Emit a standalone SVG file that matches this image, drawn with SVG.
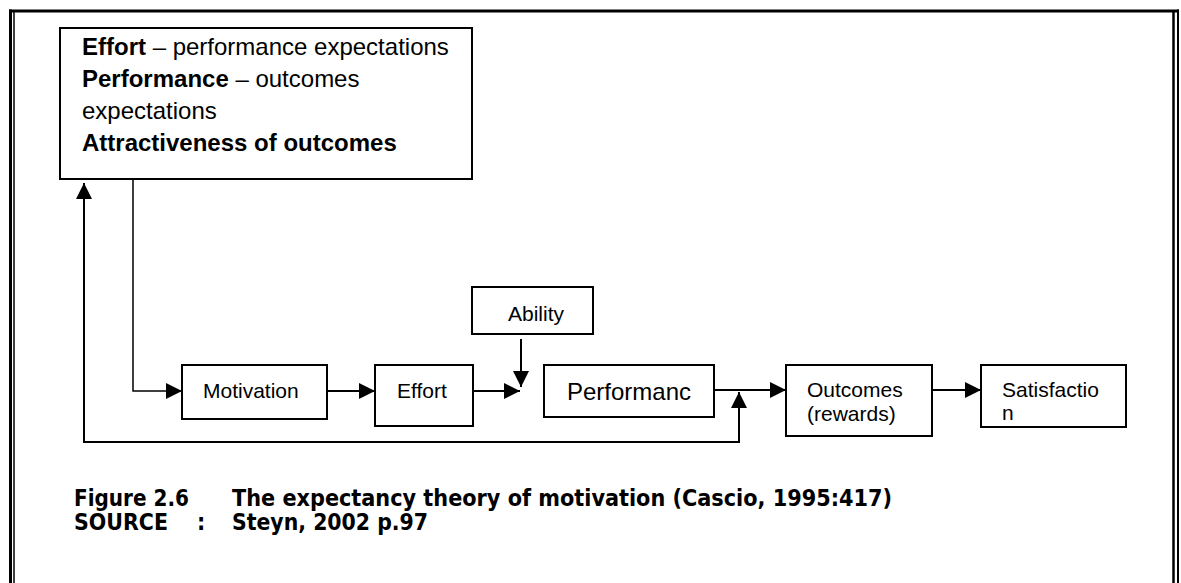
<svg xmlns="http://www.w3.org/2000/svg" width="1181" height="583" viewBox="0 0 1181 583">
  <defs>
    <style>
      .box { fill: #fff; stroke: #000; stroke-width: 2; }
      .frame { stroke: #000; fill: none; }
      .wire { fill: none; stroke: #000; stroke-width: 2; }
      .thin { stroke-width: 1.5; }
      .lbl { font-family: "Liberation Sans", Arial, sans-serif; font-size: 21px; fill: #000; }
      .big { font-size: 24px; }
      .b { font-weight: bold; }
      .cap { font-family: "DejaVu Sans Condensed", "DejaVu Sans", "Liberation Sans", sans-serif; font-stretch: condensed; font-size: 23px; font-weight: bold; fill: #000; }
    </style>
    <marker id="head" markerUnits="userSpaceOnUse" markerWidth="16" markerHeight="16" refX="16" refY="8" orient="auto-start-reverse">
      <path d="M0,0 L16,8 L0,16 z" fill="#000"/>
    </marker>
  </defs>

  <rect width="1181" height="583" fill="#fff"/>

  <!-- page frame: double rule left and right, single rule on top -->
  <g id="frame">
    <line class="frame" x1="10.5" y1="9.5" x2="10.5" y2="583" stroke-width="3"/>
    <line class="frame" x1="14" y1="12" x2="14" y2="583" stroke-width="1.5"/>
    <line class="frame" x1="9" y1="11" x2="1179" y2="11" stroke-width="3"/>
    <line class="frame" x1="1173.5" y1="12" x2="1173.5" y2="583" stroke-width="2.5"/>
    <line class="frame" x1="1178" y1="9.5" x2="1178" y2="583" stroke-width="2"/>
  </g>

  <!-- connectors -->
  <g id="connectors">
    <path class="wire thin" d="M133,180 V391 H182" marker-end="url(#head)"/>
    <path class="wire" d="M327,391 H375" marker-end="url(#head)"/>
    <path class="wire" d="M473,391 H520" marker-end="url(#head)"/>
    <path class="wire" d="M521,339 V387" marker-end="url(#head)"/>
    <path class="wire" d="M714,390 H786" marker-end="url(#head)"/>
    <path class="wire" d="M932,390 H981" marker-end="url(#head)"/>
    <path class="wire" d="M739,392 V442 H84 V183" marker-start="url(#head)" marker-end="url(#head)"/>
  </g>

  <g id="expectations">
    <rect class="box" x="60" y="28" width="412" height="151"/>
    <text class="lbl big" x="82" y="55"><tspan class="b">Effort</tspan> – performance expectations</text>
    <text class="lbl big" x="82" y="87"><tspan class="b">Performance</tspan> – outcomes</text>
    <text class="lbl big" x="82" y="119">expectations</text>
    <text class="lbl big b" x="82" y="151">Attractiveness of outcomes</text>
  </g>

  <g id="motivation">
    <rect class="box" x="182" y="365" width="145" height="54"/>
    <text class="lbl" x="203" y="398">Motivation</text>
  </g>

  <g id="effort">
    <rect class="box" x="375" y="365" width="98" height="61"/>
    <text class="lbl" x="397" y="398">Effort</text>
  </g>

  <g id="ability">
    <rect class="box" x="472" y="287" width="121" height="47"/>
    <text class="lbl" x="508" y="321">Ability</text>
  </g>

  <g id="performance">
    <rect class="box" x="544" y="365" width="170" height="52"/>
    <text class="lbl big" x="567" y="400">Performanc</text>
  </g>

  <g id="outcomes">
    <rect class="box" x="786" y="365" width="146" height="71"/>
    <text class="lbl" x="807" y="397">Outcomes</text>
    <text class="lbl" x="807" y="421">(rewards)</text>
  </g>

  <g id="satisfaction">
    <rect class="box" x="981" y="365" width="145" height="62"/>
    <text class="lbl" x="1002" y="397">Satisfactio</text>
    <text class="lbl" x="1002" y="420">n</text>
  </g>

  <g id="caption">
    <text class="cap" x="74" y="506" textLength="115" lengthAdjust="spacingAndGlyphs">Figure 2.6</text>
    <text class="cap" x="232" y="506" textLength="660" lengthAdjust="spacingAndGlyphs">The expectancy theory of motivation (Cascio, 1995:417)</text>
    <text class="cap" x="74" y="530" textLength="94" lengthAdjust="spacingAndGlyphs">SOURCE</text>
    <text class="cap" x="197" y="530">:</text>
    <text class="cap" x="232" y="530" textLength="196" lengthAdjust="spacingAndGlyphs">Steyn, 2002 p.97</text>
  </g>
</svg>
